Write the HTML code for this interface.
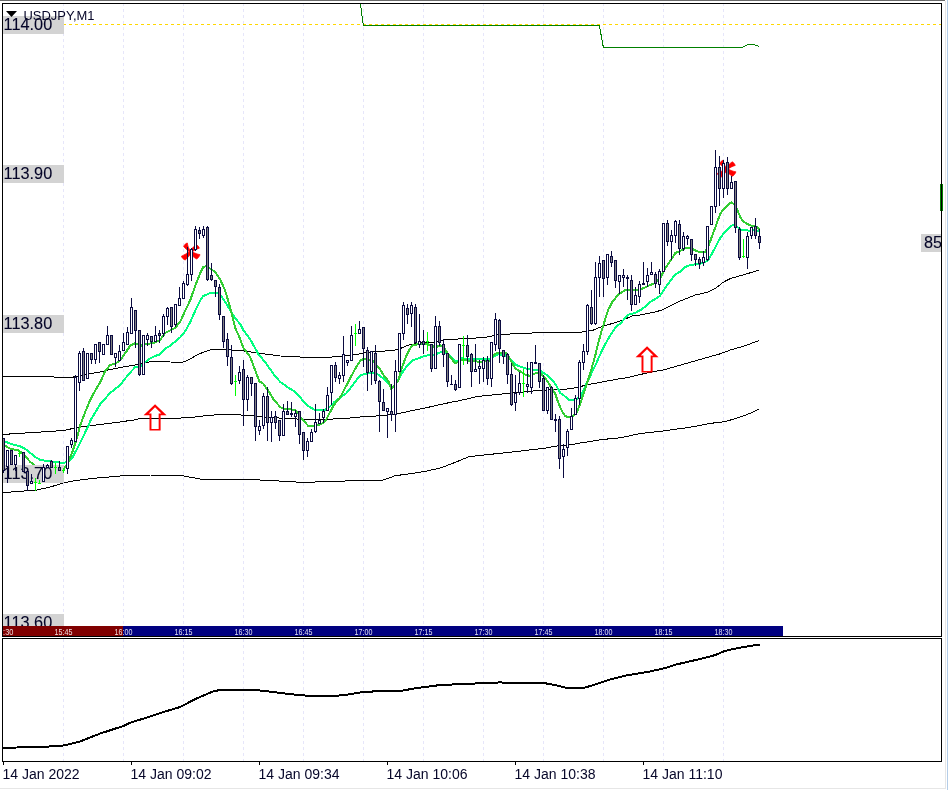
<!DOCTYPE html>
<html><head><meta charset="utf-8"><title>USDJPY,M1</title>
<style>
html,body{margin:0;padding:0;background:#fff;}
body{width:948px;height:790px;overflow:hidden;}
svg{display:block;}
text{font-family:"Liberation Sans",sans-serif;}
</style></head><body>
<svg width="948" height="790" viewBox="0 0 948 790">
<rect x="0" y="0" width="948" height="790" fill="#ffffff"/>
<g shape-rendering="crispEdges">
<rect x="0" y="0" width="945" height="1" fill="#696969"/>
<rect x="945" y="1" width="1" height="788" fill="#e6e6e6"/>
<rect x="947" y="0" width="1" height="790" fill="#b4cde8"/>
<rect x="0" y="788" width="946" height="1" fill="#e6e6e6"/>
<g stroke="#e6e6fa" stroke-width="1" stroke-dasharray="3 3"><line x1="63.5" y1="3" x2="63.5" y2="636"/><line x1="63.5" y1="639" x2="63.5" y2="761"/><line x1="123.5" y1="3" x2="123.5" y2="636"/><line x1="123.5" y1="639" x2="123.5" y2="761"/><line x1="183.5" y1="3" x2="183.5" y2="636"/><line x1="183.5" y1="639" x2="183.5" y2="761"/><line x1="243.5" y1="3" x2="243.5" y2="636"/><line x1="243.5" y1="639" x2="243.5" y2="761"/><line x1="303.5" y1="3" x2="303.5" y2="636"/><line x1="303.5" y1="639" x2="303.5" y2="761"/><line x1="363.5" y1="3" x2="363.5" y2="636"/><line x1="363.5" y1="639" x2="363.5" y2="761"/><line x1="423.5" y1="3" x2="423.5" y2="636"/><line x1="423.5" y1="639" x2="423.5" y2="761"/><line x1="483.5" y1="3" x2="483.5" y2="636"/><line x1="483.5" y1="639" x2="483.5" y2="761"/><line x1="543.5" y1="3" x2="543.5" y2="636"/><line x1="543.5" y1="639" x2="543.5" y2="761"/><line x1="603.5" y1="3" x2="603.5" y2="636"/><line x1="603.5" y1="639" x2="603.5" y2="761"/><line x1="663.5" y1="3" x2="663.5" y2="636"/><line x1="663.5" y1="639" x2="663.5" y2="761"/><line x1="723.5" y1="3" x2="723.5" y2="636"/><line x1="723.5" y1="639" x2="723.5" y2="761"/></g>
<line x1="63" y1="24.5" x2="941" y2="24.5" stroke="#ffd700" stroke-width="1" stroke-dasharray="3 3"/>
</g>
<polyline points="3.3,376.3 50.3,376.4 58.3,377.6 70.3,377.6 76.3,376.5 85.3,374.6 100.3,372.0 110.3,369.5 123.3,367.0 135.3,365.0 145.3,362.8 150.3,361.6 160.3,361.4 170.3,362.0 178.3,362.4 183.3,362.0 188.3,360.0 195.3,356.0 200.3,353.5 205.3,351.5 210.3,350.0 220.3,349.2 225.3,349.0 230.3,349.9 243.3,350.9 260.3,353.4 280.3,356.0 303.3,357.2 330.3,357.2 343.3,356.0 355.3,354.6 370.3,352.0 385.3,351.0 395.3,350.0 400.3,348.5 405.3,346.3 410.3,344.7 420.3,343.0 434.3,342.3 441.3,340.1 458.3,339.0 476.3,338.0 490.3,336.7 494.3,335.3 502.3,334.3 522.3,333.5 540.3,332.6 572.3,332.3 580.3,332.3 592.3,330.5 603.3,326.0 612.3,323.5 620.3,321.0 632.3,316.0 640.3,315.0 655.3,312.0 663.3,309.5 680.3,301.0 695.3,295.0 708.3,292.0 715.3,288.5 723.3,282.2 730.3,278.6 745.3,274.3 759.3,270.0" fill="none" stroke="#000" stroke-width="1" stroke-linejoin="round" shape-rendering="crispEdges"/>
<polyline points="3.3,434.4 30.3,432.7 63.3,430.5 80.3,427.0 100.3,424.5 120.3,422.0 130.3,420.4 137.3,419.6 138.3,418.6 175.3,418.3 190.3,417.5 210.3,415.2 225.3,414.5 230.3,414.2 250.3,415.7 270.3,417.5 290.3,418.7 303.3,419.3 320.3,419.2 340.3,418.9 360.3,417.0 380.3,415.7 395.3,414.2 410.3,411.0 425.3,408.0 440.3,404.5 452.3,402.0 460.3,400.5 477.3,396.5 512.3,393.0 540.3,390.3 564.3,389.3 572.3,388.4 590.3,384.2 603.3,381.8 615.3,379.5 627.3,377.6 640.3,374.5 647.3,372.9 655.3,371.2 663.3,370.0 684.3,364.0 700.3,359.4 720.3,353.8 730.3,350.0 745.3,345.7 759.3,340.4" fill="none" stroke="#000" stroke-width="1" stroke-linejoin="round" shape-rendering="crispEdges"/>
<polyline points="3.3,492.6 25.3,490.9 35.3,490.3 50.3,487.0 63.3,483.0 75.3,480.5 95.3,478.2 120.3,476.0 150.3,475.0 180.3,475.4 200.3,479.0 228.3,479.2 250.3,479.5 275.3,480.8 303.3,482.4 330.3,481.5 348.3,480.9 360.3,480.8 383.3,480.0 395.3,475.7 410.3,473.7 425.3,471.4 440.3,468.0 452.3,463.5 469.3,456.6 512.3,452.0 543.3,448.4 560.3,445.5 572.3,444.5 580.3,443.0 603.3,439.4 620.3,437.8 640.3,433.5 663.3,431.0 690.3,427.2 710.3,423.4 725.3,421.6 740.3,417.0 750.3,413.3 759.3,409.0" fill="none" stroke="#000" stroke-width="1" stroke-linejoin="round" shape-rendering="crispEdges"/>
<polyline points="3.3,441.0 5.3,441.5 10.3,443.7 20.3,446.4 25.3,449.0 30.3,453.0 35.3,457.0 40.3,460.0 50.3,461.4 60.3,462.6 63.3,462.8 67.3,462.0 72.3,458.0 80.3,442.4 88.3,426.0 90.3,420.6 100.3,404.0 110.3,392.8 120.3,385.0 128.3,374.5 135.3,367.0 140.3,366.5 145.3,362.0 150.3,358.3 155.3,356.0 160.3,354.2 165.3,348.7 170.3,345.6 180.3,337.3 185.3,331.0 190.3,322.0 195.3,310.5 200.3,300.5 203.3,296.0 210.3,293.0 215.3,292.8 218.3,293.4 222.3,297.5 226.3,303.5 230.3,310.5 235.3,318.5 240.3,324.0 243.3,330.0 250.3,339.5 258.3,354.0 265.3,362.3 273.3,373.7 280.3,382.0 288.3,387.6 295.3,392.0 300.3,396.9 303.3,401.6 307.3,405.3 311.3,407.9 314.3,409.8 325.3,409.8 328.3,407.9 331.3,405.3 334.3,402.1 338.3,399.0 342.3,395.8 346.3,393.2 348.3,391.0 352.3,385.7 356.3,380.4 359.3,376.2 362.3,374.7 366.3,373.7 371.3,372.8 375.3,373.2 378.3,374.7 380.3,376.2 383.3,378.6 388.3,383.0 392.3,387.0 395.3,384.7 398.3,380.0 402.3,372.5 407.3,365.5 412.3,360.3 418.3,358.4 423.3,356.5 428.3,355.2 433.3,354.8 438.3,353.3 442.3,351.4 445.3,352.0 450.3,356.5 455.3,361.5 458.3,360.5 460.3,358.3 470.3,358.9 480.3,359.5 490.3,358.9 495.3,355.7 498.3,354.4 505.3,355.0 510.3,359.5 515.3,364.6 520.3,366.5 525.3,368.4 530.3,369.6 538.3,369.6 542.3,372.2 548.3,376.0 553.3,381.0 557.3,387.4 560.3,393.0 564.3,395.8 568.3,399.5 574.3,400.0 580.3,397.2 584.3,388.4 590.3,375.7 595.3,365.6 600.3,354.2 605.3,344.0 610.3,335.2 616.3,326.3 620.3,323.5 628.3,314.7 635.3,312.8 642.3,309.0 650.3,302.0 655.3,298.9 660.3,295.5 665.3,287.6 670.3,280.8 675.3,274.4 680.3,271.5 685.3,267.0 690.3,265.0 695.3,264.4 700.3,263.8 705.3,262.0 708.3,260.0 712.3,253.0 716.3,245.4 720.3,237.8 725.3,231.5 730.3,226.5 733.3,224.6 737.3,227.0 741.3,229.6 748.3,230.6 756.3,230.4 759.3,231.5" fill="none" stroke="#00ff7f" stroke-width="2" stroke-linejoin="round" shape-rendering="crispEdges"/>
<polyline points="3.3,445.0 5.3,446.0 10.3,448.6 18.3,450.4 22.3,453.0 26.3,457.5 30.3,461.9 33.3,464.5 36.3,467.0 40.3,468.5 50.3,470.0 60.3,471.0 63.3,470.0 68.3,462.0 72.3,452.0 76.3,440.0 80.3,425.0 85.3,411.8 90.3,399.7 95.3,390.3 100.3,382.0 105.3,371.0 110.3,364.9 115.3,363.8 120.3,360.0 125.3,353.0 130.3,345.6 135.3,343.0 140.3,345.8 145.3,344.5 150.3,343.5 155.3,342.3 160.3,339.8 165.3,333.0 170.3,330.4 175.3,327.8 180.3,321.5 185.3,310.5 190.3,300.0 195.3,285.8 200.3,273.0 203.3,266.8 206.3,266.2 210.3,268.7 215.3,272.0 220.3,279.5 225.3,291.0 230.3,308.0 235.3,328.0 240.3,339.3 243.3,347.7 250.3,357.2 255.3,370.5 259.3,381.3 263.3,383.8 268.3,390.8 273.3,399.0 280.3,407.2 283.3,408.7 295.3,409.9 298.3,413.0 300.3,416.9 304.3,421.6 308.3,425.9 313.3,425.9 318.3,425.3 321.3,423.8 324.3,422.2 326.3,419.5 328.3,415.3 331.3,410.0 333.3,405.8 336.3,402.1 339.3,398.4 341.3,395.3 343.3,391.6 345.3,387.5 347.3,384.2 350.3,378.0 354.3,370.5 357.3,365.2 360.3,360.6 363.3,359.0 366.3,359.5 372.3,360.6 375.3,363.7 378.3,367.5 380.3,369.7 383.3,374.8 388.3,381.0 391.3,389.0 395.3,384.0 398.3,381.0 400.3,372.5 403.3,364.0 406.3,355.8 410.3,348.2 413.3,344.7 418.3,344.4 428.3,344.4 432.3,346.3 436.3,347.0 440.3,345.0 445.3,349.5 450.3,357.0 455.3,363.5 458.3,361.7 462.3,359.5 470.3,361.0 480.3,361.8 490.3,360.5 493.3,355.7 497.3,352.5 505.3,352.5 508.3,355.7 512.3,363.3 515.3,368.4 520.3,371.5 525.3,374.7 530.3,376.0 535.3,373.4 540.3,372.8 543.3,376.0 547.3,381.0 550.3,386.0 555.3,394.0 558.3,402.8 561.3,409.5 563.3,413.5 565.3,416.0 567.3,416.8 571.3,416.8 574.3,415.2 577.3,411.5 580.3,403.5 585.3,388.4 590.3,373.0 595.3,355.4 598.3,342.8 601.3,332.0 605.3,319.0 608.3,309.6 612.3,302.0 618.3,294.4 625.3,290.0 635.3,290.0 642.3,288.7 650.3,285.0 655.3,283.0 660.3,278.0 665.3,268.0 670.3,261.0 675.3,253.0 680.3,251.0 685.3,248.0 690.3,247.7 695.3,250.5 700.3,252.4 705.3,251.8 708.3,246.7 712.3,235.3 715.3,227.3 720.3,213.6 724.3,208.4 728.3,204.6 731.3,202.3 734.3,204.6 737.3,210.0 740.3,217.0 743.3,221.5 747.3,224.0 752.3,226.0 757.3,227.2 759.3,229.8" fill="none" stroke="#32cd32" stroke-width="2" stroke-linejoin="round" shape-rendering="crispEdges"/>
<polyline points="360.3,3.0 363.3,25.0 599.3,25.0 603.3,47.0 743.3,47.0 747.3,45.0 751.3,44.3 755.3,45.0 759.3,46.5" fill="none" stroke="#008000" stroke-width="1" stroke-linejoin="round" shape-rendering="crispEdges"/>
<g shape-rendering="crispEdges" fill="#d3d3d3"><rect x="3" y="16" width="61" height="18"/><rect x="3" y="165" width="61" height="18"/><rect x="3" y="315" width="61" height="18"/><rect x="3" y="465" width="61" height="18"/><rect x="3" y="614" width="61" height="12"/><rect x="921" y="234" width="20" height="18"/></g>
<g font-size="16.3px" fill="#050528" stroke="#050528" stroke-width="0.1"><text x="3.6" y="30">114.00</text><text x="3.6" y="179">113.90</text><text x="3.6" y="329">113.80</text><text x="3.6" y="479">113.70</text><text x="3.6" y="628">113.60</text><text x="924" y="248">85</text></g>
<path d="M-0.3,-1.2 C-2.2,-3 -3,-5.5 -3.4,-8.6 C-4.8,-8.4 -6.3,-7 -7.2,-5.2 C-5.6,-3.2 -3.6,-1.5 -1.6,-0.2 C-3.8,1.6 -6.4,3.4 -9.4,4.6 C-8.8,6.4 -7.4,7.8 -5.6,8.4 C-3.4,6.6 -1.6,4.6 -0.2,2.2 C1.4,4.4 3.4,6.2 6,7.4 C7.6,6.2 8.8,4.6 9.2,3 C6.6,2.6 3.8,1.6 1.6,0.2 C3.4,-1.2 5.8,-2.6 8.6,-3.4 C8,-5 7,-6.2 5.6,-7 C3.4,-5.6 1.4,-3.6 -0.3,-1.2 Z" transform="translate(190.8,251.6)" fill="#ff0000" stroke="#ff0000" stroke-width="0.7" stroke-linejoin="round"/>
<path d="M-0.3,-1.2 C-2.2,-3 -3,-5.5 -3.4,-8.6 C-4.8,-8.4 -6.3,-7 -7.2,-5.2 C-5.6,-3.2 -3.6,-1.5 -1.6,-0.2 C-3.8,1.6 -6.4,3.4 -9.4,4.6 C-8.8,6.4 -7.4,7.8 -5.6,8.4 C-3.4,6.6 -1.6,4.6 -0.2,2.2 C1.4,4.4 3.4,6.2 6,7.4 C7.6,6.2 8.8,4.6 9.2,3 C6.6,2.6 3.8,1.6 1.6,0.2 C3.4,-1.2 5.8,-2.6 8.6,-3.4 C8,-5 7,-6.2 5.6,-7 C3.4,-5.6 1.4,-3.6 -0.3,-1.2 Z" transform="translate(726.7,168.8)" fill="#ff0000" stroke="#ff0000" stroke-width="0.7" stroke-linejoin="round"/>
<path d="M155.06,404.20 L166.56,415.20 L160.61,415.20 L160.61,430.60 L149.51,430.60 L149.51,415.20 L143.56,415.20 Z M155.06,407.30 L161.36,413.50 L158.66,413.50 L158.66,428.90 L151.46,428.90 L151.46,413.50 L148.76,413.50 Z" fill="#ff0000" fill-rule="evenodd"/>
<path d="M647.06,346.20 L658.56,357.20 L652.61,357.20 L652.61,372.60 L641.51,372.60 L641.51,357.20 L635.56,357.20 Z M647.06,349.30 L653.36,355.50 L650.66,355.50 L650.66,370.90 L643.46,370.90 L643.46,355.50 L640.76,355.50 Z" fill="#ff0000" fill-rule="evenodd"/>
<g shape-rendering="crispEdges"><rect x="3" y="438" width="1" height="35" fill="#0b0b40"/><rect x="2" y="438" width="3" height="33" fill="#0b0b40"/><rect x="3" y="439" width="1" height="31" fill="#808080"/><rect x="7" y="450" width="1" height="33" fill="#0b0b40"/><rect x="6" y="450" width="3" height="17" fill="#0b0b40"/><rect x="7" y="451" width="1" height="15" fill="#ffffff"/><rect x="11" y="450" width="1" height="15" fill="#0b0b40"/><rect x="10" y="450" width="3" height="15" fill="#0b0b40"/><rect x="11" y="451" width="1" height="13" fill="#808080"/><rect x="15" y="455" width="1" height="16" fill="#0b0b40"/><rect x="14" y="455" width="3" height="10" fill="#0b0b40"/><rect x="15" y="456" width="1" height="8" fill="#ffffff"/><rect x="19" y="450" width="1" height="7" fill="#00ff00"/><rect x="18" y="453" width="3" height="1" fill="#00ff00"/><rect x="23" y="452" width="1" height="20" fill="#0b0b40"/><rect x="22" y="452" width="3" height="20" fill="#0b0b40"/><rect x="23" y="453" width="1" height="18" fill="#808080"/><rect x="27" y="471" width="1" height="20" fill="#0b0b40"/><rect x="26" y="471" width="3" height="15" fill="#0b0b40"/><rect x="27" y="472" width="1" height="13" fill="#808080"/><rect x="31" y="474" width="1" height="10" fill="#0b0b40"/><rect x="30" y="481" width="3" height="3" fill="#0b0b40"/><rect x="31" y="482" width="1" height="1" fill="#ffffff"/><rect x="35" y="478" width="1" height="13" fill="#00ff00"/><rect x="34" y="482" width="3" height="1" fill="#00ff00"/><rect x="39" y="480" width="1" height="4" fill="#00ff00"/><rect x="38" y="483" width="3" height="1" fill="#00ff00"/><rect x="43" y="464" width="1" height="18" fill="#0b0b40"/><rect x="42" y="467" width="3" height="15" fill="#0b0b40"/><rect x="43" y="468" width="1" height="13" fill="#ffffff"/><rect x="47" y="464" width="1" height="4" fill="#0b0b40"/><rect x="46" y="465" width="3" height="3" fill="#0b0b40"/><rect x="47" y="466" width="1" height="1" fill="#ffffff"/><rect x="51" y="460" width="1" height="8" fill="#0b0b40"/><rect x="50" y="461" width="3" height="7" fill="#0b0b40"/><rect x="51" y="462" width="1" height="5" fill="#808080"/><rect x="55" y="463" width="1" height="11" fill="#00ff00"/><rect x="54" y="467" width="3" height="1" fill="#00ff00"/><rect x="59" y="461" width="1" height="10" fill="#0b0b40"/><rect x="58" y="467" width="3" height="4" fill="#0b0b40"/><rect x="59" y="468" width="1" height="2" fill="#808080"/><rect x="63" y="468" width="1" height="5" fill="#00ff00"/><rect x="62" y="470" width="3" height="1" fill="#00ff00"/><rect x="67" y="446" width="1" height="28" fill="#0b0b40"/><rect x="66" y="446" width="3" height="23" fill="#0b0b40"/><rect x="67" y="447" width="1" height="21" fill="#ffffff"/><rect x="71" y="438" width="1" height="10" fill="#0b0b40"/><rect x="70" y="440" width="3" height="5" fill="#0b0b40"/><rect x="71" y="441" width="1" height="3" fill="#ffffff"/><rect x="75" y="375" width="1" height="67" fill="#0b0b40"/><rect x="74" y="377" width="3" height="65" fill="#0b0b40"/><rect x="75" y="378" width="1" height="63" fill="#ffffff"/><rect x="79" y="351" width="1" height="40" fill="#0b0b40"/><rect x="78" y="353" width="3" height="30" fill="#0b0b40"/><rect x="79" y="354" width="1" height="28" fill="#ffffff"/><rect x="83" y="348" width="1" height="33" fill="#0b0b40"/><rect x="82" y="351" width="3" height="30" fill="#0b0b40"/><rect x="83" y="352" width="1" height="28" fill="#808080"/><rect x="87" y="353" width="1" height="26" fill="#0b0b40"/><rect x="86" y="353" width="3" height="26" fill="#0b0b40"/><rect x="87" y="354" width="1" height="24" fill="#ffffff"/><rect x="91" y="353" width="1" height="11" fill="#0b0b40"/><rect x="90" y="353" width="3" height="7" fill="#0b0b40"/><rect x="91" y="354" width="1" height="5" fill="#808080"/><rect x="95" y="344" width="1" height="20" fill="#0b0b40"/><rect x="94" y="344" width="3" height="16" fill="#0b0b40"/><rect x="95" y="345" width="1" height="14" fill="#ffffff"/><rect x="99" y="342" width="1" height="21" fill="#0b0b40"/><rect x="98" y="342" width="3" height="10" fill="#0b0b40"/><rect x="99" y="343" width="1" height="8" fill="#808080"/><rect x="103" y="344" width="1" height="11" fill="#0b0b40"/><rect x="102" y="344" width="3" height="11" fill="#0b0b40"/><rect x="103" y="345" width="1" height="9" fill="#ffffff"/><rect x="107" y="326" width="1" height="19" fill="#0b0b40"/><rect x="106" y="335" width="3" height="10" fill="#0b0b40"/><rect x="107" y="336" width="1" height="8" fill="#ffffff"/><rect x="111" y="335" width="1" height="20" fill="#0b0b40"/><rect x="110" y="335" width="3" height="20" fill="#0b0b40"/><rect x="111" y="336" width="1" height="18" fill="#808080"/><rect x="115" y="353" width="1" height="14" fill="#0b0b40"/><rect x="114" y="353" width="3" height="5" fill="#0b0b40"/><rect x="115" y="354" width="1" height="3" fill="#ffffff"/><rect x="119" y="345" width="1" height="16" fill="#0b0b40"/><rect x="118" y="351" width="3" height="10" fill="#0b0b40"/><rect x="119" y="352" width="1" height="8" fill="#ffffff"/><rect x="123" y="333" width="1" height="18" fill="#0b0b40"/><rect x="122" y="342" width="3" height="9" fill="#0b0b40"/><rect x="123" y="343" width="1" height="7" fill="#ffffff"/><rect x="127" y="327" width="1" height="18" fill="#0b0b40"/><rect x="126" y="332" width="3" height="13" fill="#0b0b40"/><rect x="127" y="333" width="1" height="11" fill="#ffffff"/><rect x="131" y="298" width="1" height="36" fill="#0b0b40"/><rect x="130" y="307" width="3" height="27" fill="#0b0b40"/><rect x="131" y="308" width="1" height="25" fill="#ffffff"/><rect x="135" y="310" width="1" height="38" fill="#0b0b40"/><rect x="134" y="310" width="3" height="21" fill="#0b0b40"/><rect x="135" y="311" width="1" height="19" fill="#808080"/><rect x="139" y="330" width="1" height="46" fill="#0b0b40"/><rect x="138" y="330" width="3" height="45" fill="#0b0b40"/><rect x="139" y="331" width="1" height="43" fill="#808080"/><rect x="143" y="335" width="1" height="40" fill="#0b0b40"/><rect x="142" y="335" width="3" height="40" fill="#0b0b40"/><rect x="143" y="336" width="1" height="38" fill="#ffffff"/><rect x="147" y="333" width="1" height="13" fill="#0b0b40"/><rect x="146" y="335" width="3" height="5" fill="#0b0b40"/><rect x="147" y="336" width="1" height="3" fill="#ffffff"/><rect x="151" y="336" width="1" height="12" fill="#0b0b40"/><rect x="150" y="336" width="3" height="6" fill="#0b0b40"/><rect x="151" y="337" width="1" height="4" fill="#808080"/><rect x="155" y="326" width="1" height="16" fill="#0b0b40"/><rect x="154" y="335" width="3" height="7" fill="#0b0b40"/><rect x="155" y="336" width="1" height="5" fill="#ffffff"/><rect x="159" y="330" width="1" height="13" fill="#0b0b40"/><rect x="158" y="333" width="3" height="3" fill="#0b0b40"/><rect x="159" y="334" width="1" height="1" fill="#808080"/><rect x="163" y="314" width="1" height="23" fill="#0b0b40"/><rect x="162" y="316" width="3" height="18" fill="#0b0b40"/><rect x="163" y="317" width="1" height="16" fill="#ffffff"/><rect x="167" y="307" width="1" height="18" fill="#0b0b40"/><rect x="166" y="308" width="3" height="9" fill="#0b0b40"/><rect x="167" y="309" width="1" height="7" fill="#ffffff"/><rect x="171" y="307" width="1" height="26" fill="#0b0b40"/><rect x="170" y="307" width="3" height="20" fill="#0b0b40"/><rect x="171" y="308" width="1" height="18" fill="#808080"/><rect x="175" y="304" width="1" height="23" fill="#0b0b40"/><rect x="174" y="304" width="3" height="21" fill="#0b0b40"/><rect x="175" y="305" width="1" height="19" fill="#ffffff"/><rect x="179" y="287" width="1" height="19" fill="#0b0b40"/><rect x="178" y="298" width="3" height="8" fill="#0b0b40"/><rect x="179" y="299" width="1" height="6" fill="#ffffff"/><rect x="183" y="281" width="1" height="18" fill="#0b0b40"/><rect x="182" y="283" width="3" height="16" fill="#0b0b40"/><rect x="183" y="284" width="1" height="14" fill="#ffffff"/><rect x="187" y="247" width="1" height="39" fill="#0b0b40"/><rect x="186" y="274" width="3" height="11" fill="#0b0b40"/><rect x="187" y="275" width="1" height="9" fill="#ffffff"/><rect x="191" y="248" width="1" height="33" fill="#0b0b40"/><rect x="190" y="249" width="3" height="26" fill="#0b0b40"/><rect x="191" y="250" width="1" height="24" fill="#ffffff"/><rect x="195" y="226" width="1" height="25" fill="#0b0b40"/><rect x="194" y="229" width="3" height="21" fill="#0b0b40"/><rect x="195" y="230" width="1" height="19" fill="#ffffff"/><rect x="199" y="227" width="1" height="12" fill="#0b0b40"/><rect x="198" y="230" width="3" height="4" fill="#0b0b40"/><rect x="199" y="231" width="1" height="2" fill="#808080"/><rect x="203" y="226" width="1" height="12" fill="#0b0b40"/><rect x="202" y="229" width="3" height="7" fill="#0b0b40"/><rect x="203" y="230" width="1" height="5" fill="#ffffff"/><rect x="207" y="226" width="1" height="55" fill="#0b0b40"/><rect x="206" y="227" width="3" height="53" fill="#0b0b40"/><rect x="207" y="228" width="1" height="51" fill="#808080"/><rect x="211" y="263" width="1" height="18" fill="#0b0b40"/><rect x="210" y="275" width="3" height="5" fill="#0b0b40"/><rect x="211" y="276" width="1" height="3" fill="#808080"/><rect x="215" y="280" width="1" height="17" fill="#0b0b40"/><rect x="214" y="280" width="3" height="7" fill="#0b0b40"/><rect x="215" y="281" width="1" height="5" fill="#808080"/><rect x="219" y="284" width="1" height="36" fill="#0b0b40"/><rect x="218" y="287" width="3" height="28" fill="#0b0b40"/><rect x="219" y="288" width="1" height="26" fill="#808080"/><rect x="223" y="316" width="1" height="32" fill="#0b0b40"/><rect x="222" y="316" width="3" height="26" fill="#0b0b40"/><rect x="223" y="317" width="1" height="24" fill="#808080"/><rect x="227" y="333" width="1" height="33" fill="#0b0b40"/><rect x="226" y="339" width="3" height="18" fill="#0b0b40"/><rect x="227" y="340" width="1" height="16" fill="#808080"/><rect x="231" y="345" width="1" height="40" fill="#0b0b40"/><rect x="230" y="357" width="3" height="27" fill="#0b0b40"/><rect x="231" y="358" width="1" height="25" fill="#808080"/><rect x="235" y="375" width="1" height="21" fill="#00ff00"/><rect x="234" y="381" width="3" height="1" fill="#00ff00"/><rect x="239" y="366" width="1" height="18" fill="#0b0b40"/><rect x="238" y="372" width="3" height="9" fill="#0b0b40"/><rect x="239" y="373" width="1" height="7" fill="#ffffff"/><rect x="243" y="360" width="1" height="66" fill="#0b0b40"/><rect x="242" y="369" width="3" height="31" fill="#0b0b40"/><rect x="243" y="370" width="1" height="29" fill="#808080"/><rect x="247" y="375" width="1" height="36" fill="#0b0b40"/><rect x="246" y="377" width="3" height="23" fill="#0b0b40"/><rect x="247" y="378" width="1" height="21" fill="#ffffff"/><rect x="251" y="377" width="1" height="19" fill="#0b0b40"/><rect x="250" y="377" width="3" height="7" fill="#0b0b40"/><rect x="251" y="378" width="1" height="5" fill="#808080"/><rect x="255" y="383" width="1" height="58" fill="#0b0b40"/><rect x="254" y="383" width="3" height="44" fill="#0b0b40"/><rect x="255" y="384" width="1" height="42" fill="#808080"/><rect x="259" y="420" width="1" height="15" fill="#0b0b40"/><rect x="258" y="426" width="3" height="5" fill="#0b0b40"/><rect x="259" y="427" width="1" height="3" fill="#ffffff"/><rect x="263" y="393" width="1" height="36" fill="#0b0b40"/><rect x="262" y="396" width="3" height="30" fill="#0b0b40"/><rect x="263" y="397" width="1" height="28" fill="#ffffff"/><rect x="267" y="387" width="1" height="54" fill="#0b0b40"/><rect x="266" y="396" width="3" height="27" fill="#0b0b40"/><rect x="267" y="397" width="1" height="25" fill="#808080"/><rect x="271" y="411" width="1" height="31" fill="#0b0b40"/><rect x="270" y="417" width="3" height="6" fill="#0b0b40"/><rect x="271" y="418" width="1" height="4" fill="#ffffff"/><rect x="275" y="411" width="1" height="18" fill="#0b0b40"/><rect x="274" y="416" width="3" height="7" fill="#0b0b40"/><rect x="275" y="417" width="1" height="5" fill="#808080"/><rect x="279" y="420" width="1" height="21" fill="#0b0b40"/><rect x="278" y="420" width="3" height="16" fill="#0b0b40"/><rect x="279" y="421" width="1" height="14" fill="#808080"/><rect x="283" y="404" width="1" height="32" fill="#0b0b40"/><rect x="282" y="411" width="3" height="25" fill="#0b0b40"/><rect x="283" y="412" width="1" height="23" fill="#ffffff"/><rect x="287" y="401" width="1" height="14" fill="#0b0b40"/><rect x="286" y="411" width="3" height="4" fill="#0b0b40"/><rect x="287" y="412" width="1" height="2" fill="#808080"/><rect x="291" y="402" width="1" height="15" fill="#0b0b40"/><rect x="290" y="413" width="3" height="2" fill="#0b0b40"/><rect x="295" y="410" width="1" height="17" fill="#0b0b40"/><rect x="294" y="413" width="3" height="4" fill="#0b0b40"/><rect x="295" y="414" width="1" height="2" fill="#ffffff"/><rect x="299" y="411" width="1" height="33" fill="#0b0b40"/><rect x="298" y="411" width="3" height="24" fill="#0b0b40"/><rect x="299" y="412" width="1" height="22" fill="#808080"/><rect x="303" y="432" width="1" height="28" fill="#0b0b40"/><rect x="302" y="432" width="3" height="19" fill="#0b0b40"/><rect x="303" y="433" width="1" height="17" fill="#808080"/><rect x="307" y="438" width="1" height="19" fill="#0b0b40"/><rect x="306" y="441" width="3" height="10" fill="#0b0b40"/><rect x="307" y="442" width="1" height="8" fill="#ffffff"/><rect x="311" y="429" width="1" height="13" fill="#0b0b40"/><rect x="310" y="432" width="3" height="10" fill="#0b0b40"/><rect x="311" y="433" width="1" height="8" fill="#ffffff"/><rect x="315" y="404" width="1" height="29" fill="#0b0b40"/><rect x="314" y="422" width="3" height="10" fill="#0b0b40"/><rect x="315" y="423" width="1" height="8" fill="#ffffff"/><rect x="319" y="413" width="1" height="11" fill="#0b0b40"/><rect x="318" y="420" width="3" height="4" fill="#0b0b40"/><rect x="319" y="421" width="1" height="2" fill="#ffffff"/><rect x="323" y="409" width="1" height="14" fill="#0b0b40"/><rect x="322" y="411" width="3" height="7" fill="#0b0b40"/><rect x="323" y="412" width="1" height="5" fill="#ffffff"/><rect x="327" y="387" width="1" height="24" fill="#0b0b40"/><rect x="326" y="395" width="3" height="16" fill="#0b0b40"/><rect x="327" y="396" width="1" height="14" fill="#ffffff"/><rect x="331" y="365" width="1" height="40" fill="#0b0b40"/><rect x="330" y="365" width="3" height="28" fill="#0b0b40"/><rect x="331" y="366" width="1" height="26" fill="#ffffff"/><rect x="335" y="362" width="1" height="20" fill="#0b0b40"/><rect x="334" y="365" width="3" height="13" fill="#0b0b40"/><rect x="335" y="366" width="1" height="11" fill="#808080"/><rect x="339" y="372" width="1" height="12" fill="#0b0b40"/><rect x="338" y="375" width="3" height="4" fill="#0b0b40"/><rect x="339" y="376" width="1" height="2" fill="#ffffff"/><rect x="343" y="336" width="1" height="46" fill="#0b0b40"/><rect x="342" y="354" width="3" height="22" fill="#0b0b40"/><rect x="343" y="355" width="1" height="20" fill="#ffffff"/><rect x="347" y="360" width="1" height="6" fill="#0b0b40"/><rect x="346" y="360" width="3" height="3" fill="#0b0b40"/><rect x="347" y="361" width="1" height="1" fill="#ffffff"/><rect x="351" y="326" width="1" height="35" fill="#0b0b40"/><rect x="350" y="335" width="3" height="26" fill="#0b0b40"/><rect x="351" y="336" width="1" height="24" fill="#ffffff"/><rect x="355" y="324" width="1" height="22" fill="#00ff00"/><rect x="354" y="333" width="3" height="1" fill="#00ff00"/><rect x="359" y="321" width="1" height="13" fill="#0b0b40"/><rect x="358" y="329" width="3" height="5" fill="#0b0b40"/><rect x="359" y="330" width="1" height="3" fill="#ffffff"/><rect x="363" y="327" width="1" height="40" fill="#0b0b40"/><rect x="362" y="327" width="3" height="22" fill="#0b0b40"/><rect x="363" y="328" width="1" height="20" fill="#808080"/><rect x="367" y="347" width="1" height="44" fill="#0b0b40"/><rect x="366" y="350" width="3" height="23" fill="#0b0b40"/><rect x="367" y="351" width="1" height="21" fill="#808080"/><rect x="371" y="351" width="1" height="34" fill="#0b0b40"/><rect x="370" y="351" width="3" height="21" fill="#0b0b40"/><rect x="371" y="352" width="1" height="19" fill="#ffffff"/><rect x="375" y="345" width="1" height="39" fill="#0b0b40"/><rect x="374" y="353" width="3" height="28" fill="#0b0b40"/><rect x="375" y="354" width="1" height="26" fill="#808080"/><rect x="379" y="380" width="1" height="52" fill="#0b0b40"/><rect x="378" y="381" width="3" height="21" fill="#0b0b40"/><rect x="379" y="382" width="1" height="19" fill="#808080"/><rect x="383" y="389" width="1" height="22" fill="#0b0b40"/><rect x="382" y="402" width="3" height="9" fill="#0b0b40"/><rect x="383" y="403" width="1" height="7" fill="#808080"/><rect x="387" y="408" width="1" height="30" fill="#0b0b40"/><rect x="386" y="408" width="3" height="4" fill="#0b0b40"/><rect x="387" y="409" width="1" height="2" fill="#ffffff"/><rect x="391" y="384" width="1" height="37" fill="#0b0b40"/><rect x="390" y="411" width="3" height="4" fill="#0b0b40"/><rect x="391" y="412" width="1" height="2" fill="#808080"/><rect x="395" y="360" width="1" height="72" fill="#0b0b40"/><rect x="394" y="371" width="3" height="44" fill="#0b0b40"/><rect x="395" y="372" width="1" height="42" fill="#ffffff"/><rect x="399" y="333" width="1" height="39" fill="#0b0b40"/><rect x="398" y="333" width="3" height="39" fill="#0b0b40"/><rect x="399" y="334" width="1" height="37" fill="#ffffff"/><rect x="403" y="302" width="1" height="38" fill="#0b0b40"/><rect x="402" y="305" width="3" height="29" fill="#0b0b40"/><rect x="403" y="306" width="1" height="27" fill="#ffffff"/><rect x="407" y="304" width="1" height="20" fill="#0b0b40"/><rect x="406" y="308" width="3" height="7" fill="#0b0b40"/><rect x="407" y="309" width="1" height="5" fill="#808080"/><rect x="411" y="302" width="1" height="25" fill="#0b0b40"/><rect x="410" y="305" width="3" height="9" fill="#0b0b40"/><rect x="411" y="306" width="1" height="7" fill="#ffffff"/><rect x="415" y="304" width="1" height="39" fill="#0b0b40"/><rect x="414" y="307" width="3" height="36" fill="#0b0b40"/><rect x="415" y="308" width="1" height="34" fill="#808080"/><rect x="419" y="314" width="1" height="34" fill="#0b0b40"/><rect x="418" y="341" width="3" height="4" fill="#0b0b40"/><rect x="419" y="342" width="1" height="2" fill="#ffffff"/><rect x="423" y="330" width="1" height="24" fill="#0b0b40"/><rect x="422" y="341" width="3" height="4" fill="#0b0b40"/><rect x="423" y="342" width="1" height="2" fill="#808080"/><rect x="427" y="332" width="1" height="19" fill="#00ff00"/><rect x="426" y="341" width="3" height="1" fill="#00ff00"/><rect x="431" y="344" width="1" height="28" fill="#0b0b40"/><rect x="430" y="344" width="3" height="25" fill="#0b0b40"/><rect x="431" y="345" width="1" height="23" fill="#808080"/><rect x="435" y="316" width="1" height="53" fill="#0b0b40"/><rect x="434" y="326" width="3" height="43" fill="#0b0b40"/><rect x="435" y="327" width="1" height="41" fill="#ffffff"/><rect x="439" y="321" width="1" height="25" fill="#0b0b40"/><rect x="438" y="326" width="3" height="17" fill="#0b0b40"/><rect x="439" y="327" width="1" height="15" fill="#808080"/><rect x="443" y="339" width="1" height="28" fill="#0b0b40"/><rect x="442" y="344" width="3" height="11" fill="#0b0b40"/><rect x="443" y="345" width="1" height="9" fill="#808080"/><rect x="447" y="353" width="1" height="34" fill="#0b0b40"/><rect x="446" y="353" width="3" height="29" fill="#0b0b40"/><rect x="447" y="354" width="1" height="27" fill="#808080"/><rect x="451" y="375" width="1" height="10" fill="#0b0b40"/><rect x="450" y="384" width="3" height="1" fill="#0b0b40"/><rect x="455" y="380" width="1" height="11" fill="#0b0b40"/><rect x="454" y="384" width="3" height="6" fill="#0b0b40"/><rect x="455" y="385" width="1" height="4" fill="#808080"/><rect x="459" y="344" width="1" height="44" fill="#0b0b40"/><rect x="458" y="344" width="3" height="44" fill="#0b0b40"/><rect x="459" y="345" width="1" height="42" fill="#ffffff"/><rect x="463" y="336" width="1" height="29" fill="#00ff00"/><rect x="462" y="345" width="3" height="1" fill="#00ff00"/><rect x="467" y="335" width="1" height="29" fill="#0b0b40"/><rect x="466" y="345" width="3" height="12" fill="#0b0b40"/><rect x="467" y="346" width="1" height="10" fill="#808080"/><rect x="471" y="353" width="1" height="34" fill="#0b0b40"/><rect x="470" y="354" width="3" height="18" fill="#0b0b40"/><rect x="471" y="355" width="1" height="16" fill="#808080"/><rect x="475" y="344" width="1" height="28" fill="#0b0b40"/><rect x="474" y="369" width="3" height="3" fill="#0b0b40"/><rect x="475" y="370" width="1" height="1" fill="#ffffff"/><rect x="479" y="360" width="1" height="24" fill="#0b0b40"/><rect x="478" y="366" width="3" height="3" fill="#0b0b40"/><rect x="479" y="367" width="1" height="1" fill="#ffffff"/><rect x="483" y="357" width="1" height="25" fill="#0b0b40"/><rect x="482" y="360" width="3" height="9" fill="#0b0b40"/><rect x="483" y="361" width="1" height="7" fill="#ffffff"/><rect x="487" y="356" width="1" height="29" fill="#0b0b40"/><rect x="486" y="360" width="3" height="19" fill="#0b0b40"/><rect x="487" y="361" width="1" height="17" fill="#808080"/><rect x="491" y="342" width="1" height="45" fill="#0b0b40"/><rect x="490" y="342" width="3" height="37" fill="#0b0b40"/><rect x="491" y="343" width="1" height="35" fill="#ffffff"/><rect x="495" y="313" width="1" height="38" fill="#0b0b40"/><rect x="494" y="319" width="3" height="26" fill="#0b0b40"/><rect x="495" y="320" width="1" height="24" fill="#ffffff"/><rect x="499" y="319" width="1" height="44" fill="#0b0b40"/><rect x="498" y="320" width="3" height="29" fill="#0b0b40"/><rect x="499" y="321" width="1" height="27" fill="#808080"/><rect x="503" y="350" width="1" height="14" fill="#0b0b40"/><rect x="502" y="350" width="3" height="7" fill="#0b0b40"/><rect x="503" y="351" width="1" height="5" fill="#808080"/><rect x="507" y="353" width="1" height="31" fill="#0b0b40"/><rect x="506" y="354" width="3" height="21" fill="#0b0b40"/><rect x="507" y="355" width="1" height="19" fill="#808080"/><rect x="511" y="363" width="1" height="43" fill="#0b0b40"/><rect x="510" y="374" width="3" height="31" fill="#0b0b40"/><rect x="511" y="375" width="1" height="29" fill="#808080"/><rect x="515" y="375" width="1" height="36" fill="#0b0b40"/><rect x="514" y="393" width="3" height="10" fill="#0b0b40"/><rect x="515" y="394" width="1" height="8" fill="#ffffff"/><rect x="519" y="372" width="1" height="23" fill="#0b0b40"/><rect x="518" y="383" width="3" height="10" fill="#0b0b40"/><rect x="519" y="384" width="1" height="8" fill="#ffffff"/><rect x="523" y="369" width="1" height="28" fill="#00ff00"/><rect x="522" y="383" width="3" height="1" fill="#00ff00"/><rect x="527" y="362" width="1" height="31" fill="#0b0b40"/><rect x="526" y="384" width="3" height="3" fill="#0b0b40"/><rect x="527" y="385" width="1" height="1" fill="#ffffff"/><rect x="531" y="362" width="1" height="32" fill="#0b0b40"/><rect x="530" y="362" width="3" height="26" fill="#0b0b40"/><rect x="531" y="363" width="1" height="24" fill="#ffffff"/><rect x="535" y="345" width="1" height="19" fill="#0b0b40"/><rect x="534" y="362" width="3" height="2" fill="#0b0b40"/><rect x="539" y="363" width="1" height="25" fill="#0b0b40"/><rect x="538" y="363" width="3" height="19" fill="#0b0b40"/><rect x="539" y="364" width="1" height="17" fill="#808080"/><rect x="543" y="375" width="1" height="36" fill="#0b0b40"/><rect x="542" y="378" width="3" height="33" fill="#0b0b40"/><rect x="543" y="379" width="1" height="31" fill="#808080"/><rect x="547" y="387" width="1" height="27" fill="#0b0b40"/><rect x="546" y="387" width="3" height="24" fill="#0b0b40"/><rect x="547" y="388" width="1" height="22" fill="#ffffff"/><rect x="551" y="386" width="1" height="34" fill="#0b0b40"/><rect x="550" y="387" width="3" height="33" fill="#0b0b40"/><rect x="551" y="388" width="1" height="31" fill="#808080"/><rect x="555" y="414" width="1" height="18" fill="#0b0b40"/><rect x="554" y="419" width="3" height="2" fill="#0b0b40"/><rect x="559" y="416" width="1" height="53" fill="#0b0b40"/><rect x="558" y="419" width="3" height="40" fill="#0b0b40"/><rect x="559" y="420" width="1" height="38" fill="#808080"/><rect x="563" y="444" width="1" height="34" fill="#0b0b40"/><rect x="562" y="449" width="3" height="8" fill="#0b0b40"/><rect x="563" y="450" width="1" height="6" fill="#ffffff"/><rect x="567" y="429" width="1" height="27" fill="#0b0b40"/><rect x="566" y="431" width="3" height="17" fill="#0b0b40"/><rect x="567" y="432" width="1" height="15" fill="#ffffff"/><rect x="571" y="408" width="1" height="22" fill="#0b0b40"/><rect x="570" y="416" width="3" height="14" fill="#0b0b40"/><rect x="571" y="417" width="1" height="12" fill="#ffffff"/><rect x="575" y="395" width="1" height="20" fill="#0b0b40"/><rect x="574" y="398" width="3" height="17" fill="#0b0b40"/><rect x="575" y="399" width="1" height="15" fill="#ffffff"/><rect x="579" y="360" width="1" height="45" fill="#0b0b40"/><rect x="578" y="362" width="3" height="37" fill="#0b0b40"/><rect x="579" y="363" width="1" height="35" fill="#ffffff"/><rect x="583" y="344" width="1" height="26" fill="#0b0b40"/><rect x="582" y="351" width="3" height="12" fill="#0b0b40"/><rect x="583" y="352" width="1" height="10" fill="#ffffff"/><rect x="587" y="304" width="1" height="51" fill="#0b0b40"/><rect x="586" y="305" width="3" height="47" fill="#0b0b40"/><rect x="587" y="306" width="1" height="45" fill="#ffffff"/><rect x="591" y="290" width="1" height="35" fill="#0b0b40"/><rect x="590" y="307" width="3" height="17" fill="#0b0b40"/><rect x="591" y="308" width="1" height="15" fill="#808080"/><rect x="595" y="262" width="1" height="63" fill="#0b0b40"/><rect x="594" y="277" width="3" height="47" fill="#0b0b40"/><rect x="595" y="278" width="1" height="45" fill="#ffffff"/><rect x="599" y="256" width="1" height="41" fill="#0b0b40"/><rect x="598" y="263" width="3" height="15" fill="#0b0b40"/><rect x="599" y="264" width="1" height="13" fill="#ffffff"/><rect x="603" y="260" width="1" height="37" fill="#0b0b40"/><rect x="602" y="260" width="3" height="19" fill="#0b0b40"/><rect x="603" y="261" width="1" height="17" fill="#808080"/><rect x="607" y="254" width="1" height="31" fill="#0b0b40"/><rect x="606" y="254" width="3" height="24" fill="#0b0b40"/><rect x="607" y="255" width="1" height="22" fill="#ffffff"/><rect x="611" y="251" width="1" height="16" fill="#0b0b40"/><rect x="610" y="256" width="3" height="7" fill="#0b0b40"/><rect x="611" y="257" width="1" height="5" fill="#808080"/><rect x="615" y="260" width="1" height="28" fill="#0b0b40"/><rect x="614" y="260" width="3" height="21" fill="#0b0b40"/><rect x="615" y="261" width="1" height="19" fill="#808080"/><rect x="619" y="275" width="1" height="19" fill="#0b0b40"/><rect x="618" y="275" width="3" height="7" fill="#0b0b40"/><rect x="619" y="276" width="1" height="5" fill="#ffffff"/><rect x="623" y="269" width="1" height="18" fill="#0b0b40"/><rect x="622" y="275" width="3" height="3" fill="#0b0b40"/><rect x="623" y="276" width="1" height="1" fill="#ffffff"/><rect x="627" y="275" width="1" height="25" fill="#0b0b40"/><rect x="626" y="277" width="3" height="2" fill="#0b0b40"/><rect x="631" y="275" width="1" height="36" fill="#0b0b40"/><rect x="630" y="280" width="3" height="25" fill="#0b0b40"/><rect x="631" y="281" width="1" height="23" fill="#808080"/><rect x="635" y="287" width="1" height="18" fill="#0b0b40"/><rect x="634" y="295" width="3" height="10" fill="#0b0b40"/><rect x="635" y="296" width="1" height="8" fill="#ffffff"/><rect x="639" y="281" width="1" height="22" fill="#0b0b40"/><rect x="638" y="284" width="3" height="13" fill="#0b0b40"/><rect x="639" y="285" width="1" height="11" fill="#ffffff"/><rect x="643" y="262" width="1" height="23" fill="#0b0b40"/><rect x="642" y="283" width="3" height="2" fill="#0b0b40"/><rect x="647" y="268" width="1" height="19" fill="#0b0b40"/><rect x="646" y="275" width="3" height="7" fill="#0b0b40"/><rect x="647" y="276" width="1" height="5" fill="#ffffff"/><rect x="651" y="262" width="1" height="13" fill="#0b0b40"/><rect x="650" y="272" width="3" height="3" fill="#0b0b40"/><rect x="651" y="273" width="1" height="1" fill="#ffffff"/><rect x="655" y="272" width="1" height="16" fill="#0b0b40"/><rect x="654" y="274" width="3" height="10" fill="#0b0b40"/><rect x="655" y="275" width="1" height="8" fill="#808080"/><rect x="659" y="269" width="1" height="25" fill="#0b0b40"/><rect x="658" y="271" width="3" height="14" fill="#0b0b40"/><rect x="659" y="272" width="1" height="12" fill="#ffffff"/><rect x="663" y="223" width="1" height="49" fill="#0b0b40"/><rect x="662" y="223" width="3" height="49" fill="#0b0b40"/><rect x="663" y="224" width="1" height="47" fill="#ffffff"/><rect x="667" y="220" width="1" height="26" fill="#0b0b40"/><rect x="666" y="223" width="3" height="19" fill="#0b0b40"/><rect x="667" y="224" width="1" height="17" fill="#808080"/><rect x="671" y="230" width="1" height="30" fill="#0b0b40"/><rect x="670" y="235" width="3" height="7" fill="#0b0b40"/><rect x="671" y="236" width="1" height="5" fill="#ffffff"/><rect x="675" y="220" width="1" height="23" fill="#0b0b40"/><rect x="674" y="221" width="3" height="15" fill="#0b0b40"/><rect x="675" y="222" width="1" height="13" fill="#ffffff"/><rect x="679" y="220" width="1" height="35" fill="#0b0b40"/><rect x="678" y="224" width="3" height="25" fill="#0b0b40"/><rect x="679" y="225" width="1" height="23" fill="#808080"/><rect x="683" y="232" width="1" height="19" fill="#0b0b40"/><rect x="682" y="236" width="3" height="13" fill="#0b0b40"/><rect x="683" y="237" width="1" height="11" fill="#ffffff"/><rect x="687" y="235" width="1" height="10" fill="#0b0b40"/><rect x="686" y="236" width="3" height="3" fill="#0b0b40"/><rect x="687" y="237" width="1" height="1" fill="#ffffff"/><rect x="691" y="239" width="1" height="22" fill="#0b0b40"/><rect x="690" y="239" width="3" height="16" fill="#0b0b40"/><rect x="691" y="240" width="1" height="14" fill="#808080"/><rect x="695" y="254" width="1" height="12" fill="#0b0b40"/><rect x="694" y="254" width="3" height="6" fill="#0b0b40"/><rect x="695" y="255" width="1" height="4" fill="#808080"/><rect x="699" y="257" width="1" height="12" fill="#0b0b40"/><rect x="698" y="259" width="3" height="5" fill="#0b0b40"/><rect x="699" y="260" width="1" height="3" fill="#808080"/><rect x="703" y="251" width="1" height="15" fill="#0b0b40"/><rect x="702" y="257" width="3" height="6" fill="#0b0b40"/><rect x="703" y="258" width="1" height="4" fill="#ffffff"/><rect x="707" y="226" width="1" height="35" fill="#0b0b40"/><rect x="706" y="226" width="3" height="34" fill="#0b0b40"/><rect x="707" y="227" width="1" height="32" fill="#ffffff"/><rect x="711" y="206" width="1" height="19" fill="#0b0b40"/><rect x="710" y="206" width="3" height="19" fill="#0b0b40"/><rect x="711" y="207" width="1" height="17" fill="#ffffff"/><rect x="715" y="150" width="1" height="63" fill="#0b0b40"/><rect x="714" y="167" width="3" height="40" fill="#0b0b40"/><rect x="715" y="168" width="1" height="38" fill="#ffffff"/><rect x="719" y="156" width="1" height="50" fill="#0b0b40"/><rect x="718" y="167" width="3" height="22" fill="#0b0b40"/><rect x="719" y="168" width="1" height="20" fill="#808080"/><rect x="723" y="160" width="1" height="38" fill="#0b0b40"/><rect x="722" y="163" width="3" height="26" fill="#0b0b40"/><rect x="723" y="164" width="1" height="24" fill="#ffffff"/><rect x="727" y="157" width="1" height="38" fill="#0b0b40"/><rect x="726" y="162" width="3" height="27" fill="#0b0b40"/><rect x="727" y="163" width="1" height="25" fill="#808080"/><rect x="731" y="176" width="1" height="13" fill="#0b0b40"/><rect x="730" y="182" width="3" height="7" fill="#0b0b40"/><rect x="731" y="183" width="1" height="5" fill="#ffffff"/><rect x="735" y="181" width="1" height="52" fill="#0b0b40"/><rect x="734" y="181" width="3" height="47" fill="#0b0b40"/><rect x="735" y="182" width="1" height="45" fill="#808080"/><rect x="739" y="227" width="1" height="33" fill="#0b0b40"/><rect x="738" y="229" width="3" height="29" fill="#0b0b40"/><rect x="739" y="230" width="1" height="27" fill="#808080"/><rect x="743" y="239" width="1" height="19" fill="#00ff00"/><rect x="742" y="256" width="3" height="1" fill="#00ff00"/><rect x="747" y="232" width="1" height="37" fill="#0b0b40"/><rect x="746" y="236" width="3" height="22" fill="#0b0b40"/><rect x="747" y="237" width="1" height="20" fill="#ffffff"/><rect x="751" y="227" width="1" height="12" fill="#0b0b40"/><rect x="750" y="227" width="3" height="9" fill="#0b0b40"/><rect x="751" y="228" width="1" height="7" fill="#ffffff"/><rect x="755" y="218" width="1" height="21" fill="#0b0b40"/><rect x="754" y="226" width="3" height="10" fill="#0b0b40"/><rect x="755" y="227" width="1" height="8" fill="#808080"/><rect x="759" y="229" width="1" height="20" fill="#0b0b40"/><rect x="758" y="236" width="3" height="7" fill="#0b0b40"/><rect x="759" y="237" width="1" height="5" fill="#808080"/></g>
<polygon points="6,11 17,11 11.5,17" fill="#000"/>
<text x="23.5" y="20" font-size="13.6px" textLength="71" lengthAdjust="spacingAndGlyphs" fill="#050528">USDJPY,M1</text>
<g shape-rendering="crispEdges"><rect x="3" y="626" width="120" height="10" fill="#800000"/><rect x="123" y="626" width="660" height="10" fill="#000080"/></g>
<g font-size="8.5px" fill="#ffffff" fill-opacity="0.88"><text x="54.6" y="635" textLength="17.8" lengthAdjust="spacingAndGlyphs">15:45</text><text x="114.6" y="635" textLength="17.8" lengthAdjust="spacingAndGlyphs">16:00</text><text x="174.6" y="635" textLength="17.8" lengthAdjust="spacingAndGlyphs">16:15</text><text x="234.6" y="635" textLength="17.8" lengthAdjust="spacingAndGlyphs">16:30</text><text x="294.6" y="635" textLength="17.8" lengthAdjust="spacingAndGlyphs">16:45</text><text x="354.6" y="635" textLength="17.8" lengthAdjust="spacingAndGlyphs">17:00</text><text x="414.6" y="635" textLength="17.8" lengthAdjust="spacingAndGlyphs">17:15</text><text x="474.6" y="635" textLength="17.8" lengthAdjust="spacingAndGlyphs">17:30</text><text x="534.6" y="635" textLength="17.8" lengthAdjust="spacingAndGlyphs">17:45</text><text x="594.6" y="635" textLength="17.8" lengthAdjust="spacingAndGlyphs">18:00</text><text x="654.6" y="635" textLength="17.8" lengthAdjust="spacingAndGlyphs">18:15</text><text x="714.6" y="635" textLength="17.8" lengthAdjust="spacingAndGlyphs">18:30</text></g><text x="3.1" y="635"  font-size="8.5px" fill="#ffffff" fill-opacity="0.88" textLength="10.3" lengthAdjust="spacingAndGlyphs">:30</text>
<polyline points="3.3,748.0 30.3,747.0 45.3,746.8 65.3,745.3 72.3,743.5 80.3,741.4 100.3,733.5 123.3,726.0 131.3,722.3 150.3,716.5 165.3,711.5 180.3,707.0 195.3,699.0 205.3,694.8 213.3,691.3 220.3,690.0 253.3,689.8 270.3,691.7 290.3,694.2 313.3,696.3 330.3,696.3 345.3,695.0 365.3,691.7 380.3,691.3 398.3,691.3 415.3,688.3 440.3,685.0 470.3,683.7 500.3,682.4 515.3,683.3 545.3,683.3 555.3,685.0 565.3,687.5 585.3,687.5 595.3,684.5 610.3,679.5 625.3,675.7 650.3,671.4 665.3,668.0 675.3,664.7 690.3,661.3 708.3,657.0 715.3,655.0 725.3,650.8 740.3,647.6 750.3,646.0 760.3,644.4" fill="none" stroke="#000" stroke-width="2" stroke-linejoin="round" shape-rendering="crispEdges"/>
<g shape-rendering="crispEdges" fill="#000"><rect x="2" y="3" width="940" height="1"/><rect x="2" y="3" width="1" height="634"/><rect x="941" y="3" width="1" height="634"/><rect x="2" y="636" width="940" height="1"/><rect x="2" y="638" width="940" height="1"/><rect x="2" y="638" width="1" height="124"/><rect x="941" y="638" width="1" height="124"/><rect x="2" y="761" width="940" height="1"/><rect x="3" y="761" width="1" height="4"/><rect x="131" y="761" width="1" height="4"/><rect x="259" y="761" width="1" height="4"/><rect x="387" y="761" width="1" height="4"/><rect x="515" y="761" width="1" height="4"/><rect x="643" y="761" width="1" height="4"/><rect x="940" y="184" width="3" height="27" fill="#008000"/><rect x="941" y="184" width="1" height="27" fill="#000"/></g>
<g font-size="14px" fill="#050528"><text x="2.5" y="779">14 Jan 2022</text><text x="130.5" y="779">14 Jan 09:02</text><text x="258.5" y="779">14 Jan 09:34</text><text x="386.5" y="779">14 Jan 10:06</text><text x="514.5" y="779">14 Jan 10:38</text><text x="642.5" y="779">14 Jan 11:10</text></g>
</svg>
</body></html>
